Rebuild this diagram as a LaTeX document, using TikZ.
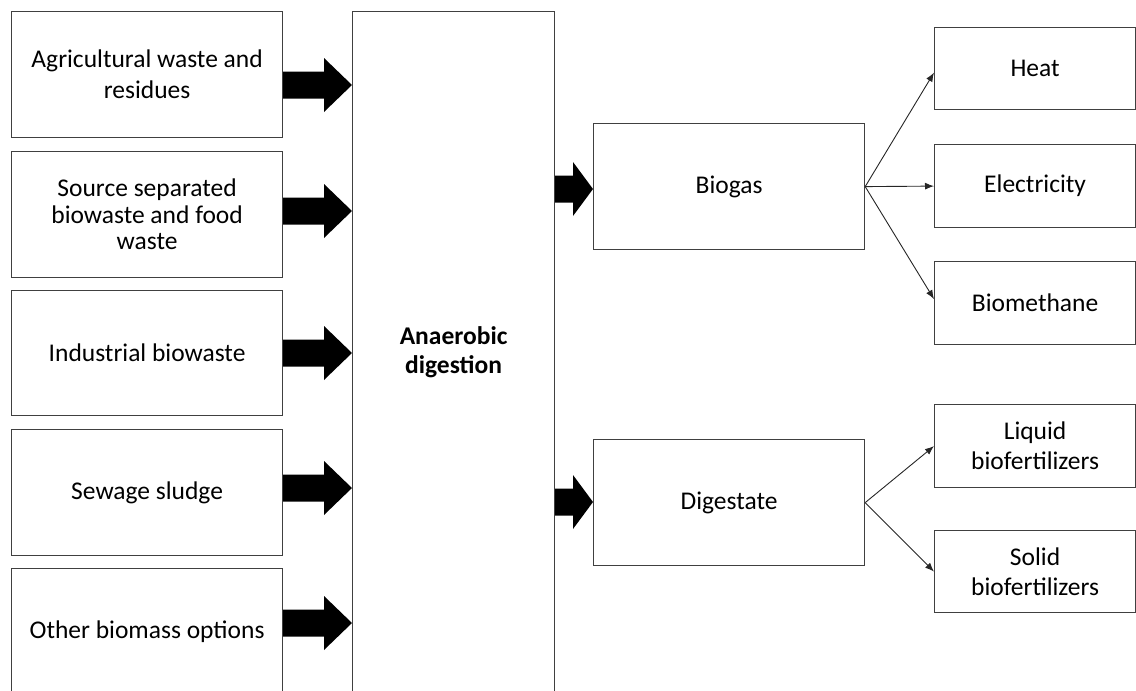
\documentclass[tikz,border=0pt]{standalone}
\usepackage{fontspec}
\setmainfont{Carlito}
\usetikzlibrary{arrows.meta,calc}

\tikzset{
  box/.style={draw=black!75, line width=1.2pt, fill=white, anchor=north west,
    align=center, inner sep=0pt, font=\fontsize{25.5}{31}\selectfont},
  thinarrow/.style={draw=black!85, line width=0.9pt,
    -{Latex[length=9pt,width=7pt]}},
  fatfill/.style={fill=black}
}

% thick block arrow from node #1 to node #2 at height #3, head length #4
\newcommand{\fatarrow}[4]{%
  \fill[fatfill] ($(#1.east |- 0,#3)+(0,-13.5)$)
    -- ($(#2.west |- 0,#3)+(-#4,-13.5)$)
    -- ++(0,-13.5)
    -- (#2.west |- 0,#3)
    -- ++(-#4,27)
    -- ++(0,-13.5)
    -- ($(#1.east |- 0,#3)+(0,13.5)$) -- cycle;}

\begin{document}
\begin{tikzpicture}[x=1pt,y=-1pt]
  \useasboundingbox (0,0) rectangle (1136,691);
  \clip (0,0) rectangle (1136,691);

  % feedstocks
  \node[box, minimum width=271, minimum height=126] (in1) at (11,11)
    {Agricultural waste and\\residues};
  \node[box, minimum width=271, minimum height=126,
        font=\fontsize{25.5}{26.5}\selectfont] (in2) at (11,151)
    {Source separated\\biowaste and food\\waste};
  \node[box, minimum width=271, minimum height=125] (in3) at (11,290)
    {Industrial biowaste};
  \node[box, minimum width=271, minimum height=126] (in4) at (11,429)
    {Sewage sludge};
  \node[box, minimum width=271, minimum height=126] (in5) at (11,568)
    {Other biomass options};

  % digester
  \node[box, minimum width=202, minimum height=682,
        font=\bfseries\fontsize{25.5}{29}\selectfont] (ad) at (352,11)
    {Anaerobic\\digestion};

  % products
  \node[box, minimum width=271, minimum height=126] (biogas) at (593,123) {Biogas};
  \node[box, minimum width=271, minimum height=126] (digestate) at (593,439) {Digestate};

  % end uses
  \node[box, minimum width=201, minimum height=82] (heat) at (934,27) {Heat};
  \node[box, minimum width=201, minimum height=83] (elec) at (934,144) {Electricity};
  \node[box, minimum width=201, minimum height=83] (biometh) at (934,261) {Biomethane};
  \node[box, minimum width=201, minimum height=83,
        font=\fontsize{25.5}{30}\selectfont] (liquid) at (934,404)
    {Liquid\\biofertilizers};
  \node[box, minimum width=201, minimum height=82,
        font=\fontsize{25.5}{30}\selectfont] (solid) at (934,530)
    {Solid\\biofertilizers};

  % feedstock inputs
  \fatarrow{in1}{ad}{85}{28}
  \fatarrow{in2}{ad}{211}{28}
  \fatarrow{in3}{ad}{353}{28}
  \fatarrow{in4}{ad}{488}{28}
  \fatarrow{in5}{ad}{623}{28}

  % digester outputs
  \fatarrow{ad}{biogas}{189}{20}
  \fatarrow{ad}{digestate}{502}{20}

  % uses of biogas and digestate
  \draw[thinarrow] (biogas.east) -- ($(heat.west)+(0,4)$);
  \draw[thinarrow] (biogas.east) -- (elec.west);
  \draw[thinarrow] (biogas.east) -- ($(biometh.west)+(0,-4)$);
  \draw[thinarrow] (digestate.east) -- (liquid.west);
  \draw[thinarrow] (digestate.east) -- (solid.west);
\end{tikzpicture}
\end{document}
